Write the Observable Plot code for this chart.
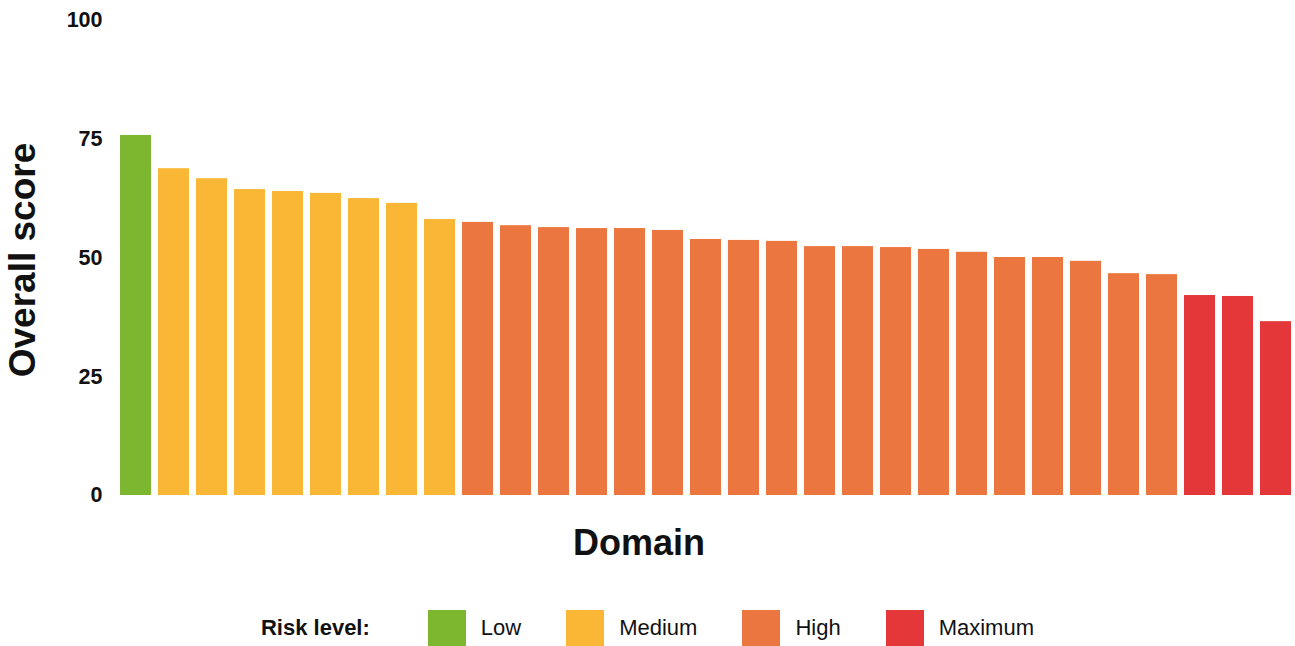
<!DOCTYPE html>
<html>
<head>
<meta charset="utf-8">
<script src="https://cdn.jsdelivr.net/npm/d3@7"></script>
<script src="https://cdn.jsdelivr.net/npm/@observablehq/plot@0.6"></script>
<style>
  html, body { margin: 0; padding: 0; background: #fff; }
  body { width: 1295px; height: 646px; overflow: hidden; font-family: "Liberation Sans", Arial, Helvetica, sans-serif; }
  #legend { display: flex; align-items: center; justify-content: center; height: 36px; margin-top: 5px; font-size: 22px; color: #111; }
  #legend .title { font-weight: bold; margin-right: 58px; }
  #legend .sw { width: 38px; height: 36px; margin-right: 15px; }
  #legend .lab { margin-right: 45px; }
  #legend .lab:last-child { margin-right: 0; }
</style>
</head>
<body>
<div id="chart"></div>
<div id="legend"></div>
<script>
const domains = Array.from({length: 31}, (_, i) => "Domain " + (i + 1));
const scores = [75.8, 68.8, 66.7, 64.4, 64.0, 63.6, 62.5, 61.5, 58.1, 57.5,
                56.8, 56.4, 56.2, 56.2, 55.8, 53.9, 53.7, 53.5, 52.4, 52.4,
                52.2, 51.8, 51.2, 50.1, 50.1, 49.3, 46.7, 46.5, 42.1, 41.9, 36.6];
const risks = ["Low", "Medium", "Medium", "Medium", "Medium", "Medium", "Medium", "Medium", "Medium",
               "High", "High", "High", "High", "High", "High", "High", "High", "High", "High",
               "High", "High", "High", "High", "High", "High", "High", "High", "High",
               "Maximum", "Maximum", "Maximum"];
const riskLevels = ["Low", "Medium", "High", "Maximum"];
const riskColors = ["#7db72f", "#f9b735", "#ec763f", "#e3373a"];
const yTicks = [0, 25, 50, 75, 100];

const data = domains.map((d, i) => ({domain: d, score: scores[i], risk: risks[i]}));

const chart = Plot.plot({
  width: 1295,
  height: 605,
  marginTop: 20,
  marginBottom: 110,
  marginLeft: 120,
  marginRight: 4,
  style: {fontFamily: "'Liberation Sans', Arial, Helvetica, sans-serif", color: "#111", background: "#fff"},
  x: {domain: domains, paddingInner: 0.184, paddingOuter: 0, axis: null},
  y: {domain: [0, 100], axis: null},
  color: {domain: riskLevels, range: riskColors},
  marks: [
    Plot.barY(data, {x: "domain", y: "score", fill: "risk", insetLeft: 0, insetRight: 0}),
    Plot.axisY({ticks: yTicks, tickSize: 0, tickPadding: 18, fontSize: 21.5, fontWeight: "bold", label: null, fill: "#111"}),
    Plot.text(["Overall score"], {frameAnchor: "left", textAnchor: "middle", rotate: -90, dx: -97, dy: 2, fontSize: 37, fontWeight: "bold", fill: "#111"}),
    Plot.text(["Domain"], {frameAnchor: "bottom", dx: -67, dy: 59, fontSize: 36, fontWeight: "bold", fill: "#111"})
  ]
});
document.getElementById("chart").appendChild(chart);

const legend = document.getElementById("legend");
const t = document.createElement("span");
t.className = "title";
t.textContent = "Risk level:";
legend.appendChild(t);
riskLevels.forEach((r, i) => {
  const sw = document.createElement("span");
  sw.className = "sw";
  sw.style.background = riskColors[i];
  legend.appendChild(sw);
  const lab = document.createElement("span");
  lab.className = "lab";
  lab.textContent = r;
  legend.appendChild(lab);
});
</script>
</body>
</html>
